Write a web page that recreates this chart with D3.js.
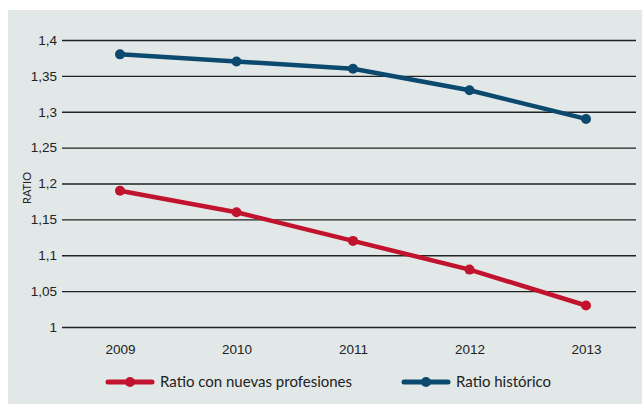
<!DOCTYPE html>
<html>
<head>
<meta charset="utf-8">
<script src="https://cdn.jsdelivr.net/npm/d3@7"></script>
<style>
  body { margin: 0; background: #fff; }
  svg { display: block; font-family: Lato, "Open Sans", sans-serif; }
</style>
</head>
<body>
<svg id="chart" width="642" height="404"></svg>
<script>
const years = ['2009', '2010', '2011', '2012', '2013'];
const ratioNuevas = [1.19, 1.16, 1.12, 1.08, 1.03];
const ratioHistorico = [1.38, 1.37, 1.36, 1.33, 1.29];
const yTicks = [1, 1.05, 1.1, 1.15, 1.2, 1.25, 1.3, 1.35, 1.4];
const seriesNames = ['Ratio con nuevas profesiones', 'Ratio histórico'];
const seriesColors = ['#c2132e', '#0b4a6e'];

const svg = d3.select('#chart');

// panel background
svg.append('rect')
  .attr('x', 8).attr('y', 10)
  .attr('width', 634).attr('height', 394)
  .attr('fill', '#e1e8e7');

const x = d3.scalePoint()
  .domain(years)
  .range([120, 586]);

const y = d3.scaleLinear()
  .domain([1, 1.4])
  .range([327, 40]);

const fmt = d => String(+d.toFixed(2)).replace('.', ',');

// gridlines + y labels
const yAxis = svg.append('g').attr('transform', 'translate(62,0)')
  .call(d3.axisLeft(y).tickValues(yTicks).tickSize(-574).tickPadding(6).tickFormat(fmt));
yAxis.select('.domain').remove();
yAxis.selectAll('.tick line').attr('stroke', '#222').attr('stroke-width', 1.4);
yAxis.selectAll('.tick text')
  .attr('fill', '#222').attr('font-size', 13.5).attr('x', -5);

// x labels
const xAxis = svg.append('g').attr('transform', 'translate(0,327)')
  .call(d3.axisBottom(x).tickSize(0).tickPadding(17));
xAxis.select('.domain').remove();
xAxis.selectAll('.tick text').attr('fill', '#222').attr('font-size', 13.5);

// y title
svg.append('text')
  .attr('transform', 'translate(31,188) rotate(-90)')
  .attr('text-anchor', 'middle')
  .attr('font-size', 11)
  .attr('fill', '#222')
  .text('RATIO');

const line = d3.line()
  .x((d, i) => x(years[i]))
  .y(d => y(d));

[ratioNuevas, ratioHistorico].forEach((vals, s) => {
  const g = svg.append('g');
  g.append('path')
    .attr('d', line(vals))
    .attr('fill', 'none')
    .attr('stroke', seriesColors[s])
    .attr('stroke-width', 4.5)
    .attr('stroke-linejoin', 'round');
  g.selectAll('circle')
    .data(vals)
    .enter()
    .append('circle')
    .attr('cx', (d, i) => x(years[i]))
    .attr('cy', d => y(d))
    .attr('r', 5)
    .attr('fill', seriesColors[s]);
});

// legend
const legendX = [108, 404];
seriesNames.forEach((name, s) => {
  const g = svg.append('g').attr('transform', `translate(${legendX[s]},382)`);
  g.append('line')
    .attr('x1', 0).attr('x2', 44)
    .attr('stroke', seriesColors[s])
    .attr('stroke-width', 5)
    .attr('stroke-linecap', 'round');
  g.append('circle').attr('cx', 22).attr('r', 5).attr('fill', seriesColors[s]);
  g.append('text')
    .attr('x', 52).attr('y', 5)
    .attr('font-size', 15)
    .attr('fill', '#222')
    .text(name);
});
</script>
</body>
</html>
